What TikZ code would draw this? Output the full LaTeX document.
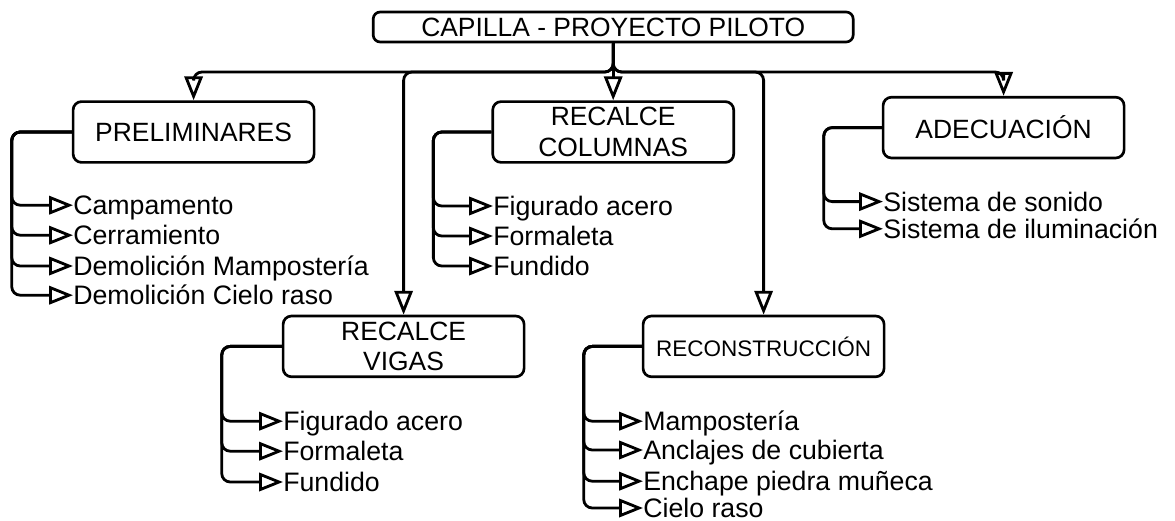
\documentclass[tikz,border=0pt]{standalone}
\usepackage{fontspec}
\setmainfont{Liberation Sans}
\usepackage{tikz}
\usetikzlibrary{arrows.meta, positioning, calc}
\tikzset{
    box_title/.style={
        rectangle, rounded corners=5pt, draw=black, line width=1.9pt,
        minimum width=12cm, minimum height=0.75cm, inner sep=0pt,
        align=center, font=\fontsize{18.8}{22}\selectfont
    },
    box_stage/.style={
        rectangle, rounded corners=6pt, draw=black, line width=1.9pt,
        minimum width=6.025cm, minimum height=1.52cm, inner sep=0pt,
        align=center, font=\fontsize{18.8}{22}\selectfont
    },
    task_lbl/.style={
        anchor=west, inner sep=0pt, text height=13.5pt, text depth=0pt,
        font=\fontsize{19}{22}\selectfont
    },
    link_arrow/.style={
        -{Triangle[open, length=17pt, width=13pt]}, line width=2pt,
        rounded corners=6pt, draw=black
    }
}

\begin{document}
\begin{tikzpicture}
    \useasboundingbox (0,0) rectangle (29.375,-13.025);

    % Title
    \node[box_title] (root) at (15.33, -0.675) {CAPILLA - PROYECTO PILOTO};
    \coordinate (hub) at (15.33, -1.8);

    % Stages
    \node[box_stage] (prelim) at (4.84, -3.3) {PRELIMINARES};
    \node[box_stage] (columnas) at (15.33, -3.3) {RECALCE\\COLUMNAS};
    \node[box_stage] (adecua) at (25.09, -3.19) {ADECUACIÓN};
    \node[box_stage] (vigas) at (10.09, -8.66) {RECALCE\\VIGAS};
    \node[box_stage, font=\fontsize{16}{19}\selectfont] (recons) at (19.09, -8.66) {RECONSTRUCCIÓN};

    % Title -> stages
    \draw[link_arrow] (root.south) -- (hub) -| (prelim.north);
    \draw[link_arrow] (root.south) -- (hub) -| (vigas.north);
    \draw[link_arrow] (root.south) -- (columnas.north);
    \draw[link_arrow] (root.south) -- (hub) -| (recons.north);
    \draw[link_arrow] (root.south) -- (hub) -| (adecua.north);

    % Preliminares tasks
    \node[task_lbl] (pre_a) at (1.825, -5.13) {Campamento};
    \node[task_lbl] (pre_b) at (1.825, -5.88) {Cerramiento};
    \node[task_lbl] (pre_c) at (1.825, -6.65) {Demolición Mampostería};
    \node[task_lbl] (pre_d) at (1.825, -7.38) {Demolición Cielo raso};
    \draw[link_arrow] (prelim.west) -- ++(-1.5,0) |- (pre_a.west);
    \draw[link_arrow] (prelim.west) -- ++(-1.5,0) |- (pre_b.west);
    \draw[link_arrow] (prelim.west) -- ++(-1.5,0) |- (pre_c.west);
    \draw[link_arrow] (prelim.west) -- ++(-1.5,0) |- (pre_d.west);

    % Recalce columnas tasks
    \node[task_lbl] (col_a) at (12.325, -5.15) {Figurado acero};
    \node[task_lbl] (col_b) at (12.325, -5.9) {Formaleta};
    \node[task_lbl] (col_c) at (12.325, -6.65) {Fundido};
    \draw[link_arrow] (columnas.west) -- ++(-1.45,0) |- (col_a.west);
    \draw[link_arrow] (columnas.west) -- ++(-1.45,0) |- (col_b.west);
    \draw[link_arrow] (columnas.west) -- ++(-1.45,0) |- (col_c.west);

    % Adecuacion tasks
    \node[task_lbl] (ade_a) at (22.075, -5.04) {Sistema de sonido};
    \node[task_lbl] (ade_b) at (22.075, -5.72) {Sistema de iluminación};
    \draw[link_arrow] (adecua.west) -- ++(-1.45,0) |- (ade_a.west);
    \draw[link_arrow] (adecua.west) -- ++(-1.45,0) |- (ade_b.west);

    % Recalce vigas tasks
    \node[task_lbl] (vig_a) at (7.075, -10.53) {Figurado acero};
    \node[task_lbl] (vig_b) at (7.075, -11.28) {Formaleta};
    \node[task_lbl] (vig_c) at (7.075, -12.05) {Fundido};
    \draw[link_arrow] (vigas.west) -- ++(-1.5,0) |- (vig_a.west);
    \draw[link_arrow] (vigas.west) -- ++(-1.5,0) |- (vig_b.west);
    \draw[link_arrow] (vigas.west) -- ++(-1.5,0) |- (vig_c.west);

    % Reconstruccion tasks
    \node[task_lbl] (rec_a) at (16.075, -10.53) {Mampostería};
    \node[task_lbl] (rec_b) at (16.075, -11.25) {Anclajes de cubierta};
    \node[task_lbl] (rec_c) at (16.075, -12.03) {Enchape piedra muñeca};
    \node[task_lbl] (rec_d) at (16.075, -12.7) {Cielo raso};
    \draw[link_arrow] (recons.west) -- ++(-1.45,0) |- (rec_a.west);
    \draw[link_arrow] (recons.west) -- ++(-1.45,0) |- (rec_b.west);
    \draw[link_arrow] (recons.west) -- ++(-1.45,0) |- (rec_c.west);
    \draw[link_arrow] (recons.west) -- ++(-1.45,0) |- (rec_d.west);

\end{tikzpicture}
\end{document}
